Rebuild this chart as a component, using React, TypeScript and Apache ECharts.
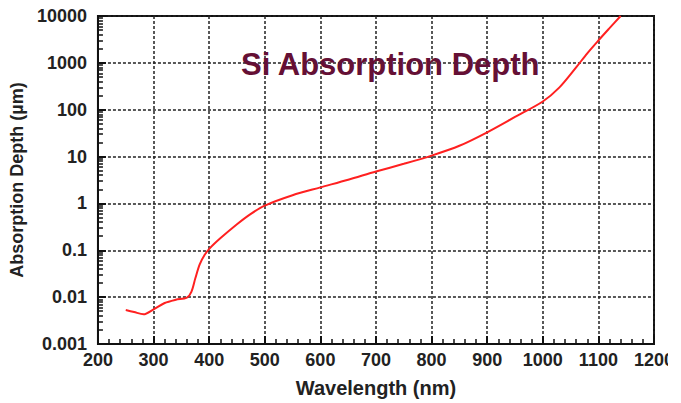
import React, { useEffect, useRef } from "react";
import * as echarts from "echarts";

const wavelengths = [250, 265, 282, 300, 320, 340, 360, 368, 375, 383, 392, 401, 420, 450, 475, 500, 550, 600, 650, 700, 750, 800, 850, 900, 950, 1000, 1030, 1060, 1080, 1100, 1120, 1140];
const depths = [0.0053, 0.0048, 0.0043, 0.0055, 0.0075, 0.0088, 0.0098, 0.013, 0.025, 0.05, 0.08, 0.11, 0.18, 0.36, 0.6, 0.9, 1.5, 2.2, 3.2, 4.8, 7, 10.5, 17, 33, 70, 150, 300, 800, 1600, 3000, 5500, 10000];
const titleText = "Si Absorption Depth";
const xName = "Wavelength (nm)";
const yName = "Absorption Depth (µm)";

export default function App() {
  const ref = useRef<HTMLDivElement>(null);
  useEffect(() => {
    const chart = echarts.init(ref.current!, null, { renderer: "svg" });
    const font = "Liberation Sans, Arial, sans-serif";
    const split = { show: true, lineStyle: { color: "#222", width: 1.5, type: [3, 2] as any } };
    chart.setOption({
      animation: false,
      backgroundColor: "#fff",
      title: {
        text: titleText,
        left: 236,
        top: 44,
        textStyle: { color: "#651035", fontSize: 31, fontWeight: "bold", fontFamily: font },
      },
      grid: { left: 94, top: 16, right: 27, bottom: 56, show: true, borderColor: "#111", borderWidth: 2, backgroundColor: "transparent" },
      xAxis: {
        type: "value",
        min: 200,
        max: 1200,
        interval: 100,
        name: xName,
        nameLocation: "middle",
        nameGap: 34,
        nameTextStyle: { color: "#222", fontSize: 20, fontWeight: "bold", fontFamily: font },
        axisLine: { show: true, lineStyle: { color: "#111", width: 2 } },
        axisTick: { show: true, inside: true, length: 8, lineStyle: { color: "#111", width: 2 } },
        minorTick: { show: true, splitNumber: 5, length: 5, lineStyle: { color: "#111", width: 1.5 } },
        axisLabel: { color: "#222", fontSize: 18, fontWeight: "bold", fontFamily: font, margin: 7, formatter: (v: number) => String(v) },
        splitLine: split,
      },
      yAxis: {
        type: "log",
        logBase: 10,
        min: 0.001,
        max: 10000,
        name: yName,
        nameLocation: "middle",
        nameGap: 62,
        nameTextStyle: { color: "#222", fontSize: 18, fontWeight: "bold", fontFamily: font },
        axisLine: { show: true, lineStyle: { color: "#111", width: 2 } },
        axisTick: { show: true, inside: true, length: 8, lineStyle: { color: "#111", width: 2 } },
        minorTick: { show: true, splitNumber: 9, length: 5, lineStyle: { color: "#111", width: 1.5 } },
        axisLabel: {
          color: "#222",
          fontSize: 18,
          fontWeight: "bold",
          fontFamily: font,
          margin: 11,
          formatter: (v: number) => (v < 1 ? String(Number(v.toPrecision(3))) : String(Math.round(v))),
        },
        splitLine: split,
      },
      graphic: [
        { type: "rect", right: 0, top: 345, shape: { width: 13, height: 40 }, style: { fill: "#fff" }, z: 100 },
      ],
      series: [
        {
          type: "line",
          data: wavelengths.map((w, i) => [w, depths[i]]),
          smooth: 0.3,
          showSymbol: false,
          lineStyle: { color: "#ff2020", width: 2 },
        },
      ],
    });
    return () => chart.dispose();
  }, []);
  return <div ref={ref} style={{ position: "fixed", left: 0, top: 0, width: 681, height: 403 }} />;
}
